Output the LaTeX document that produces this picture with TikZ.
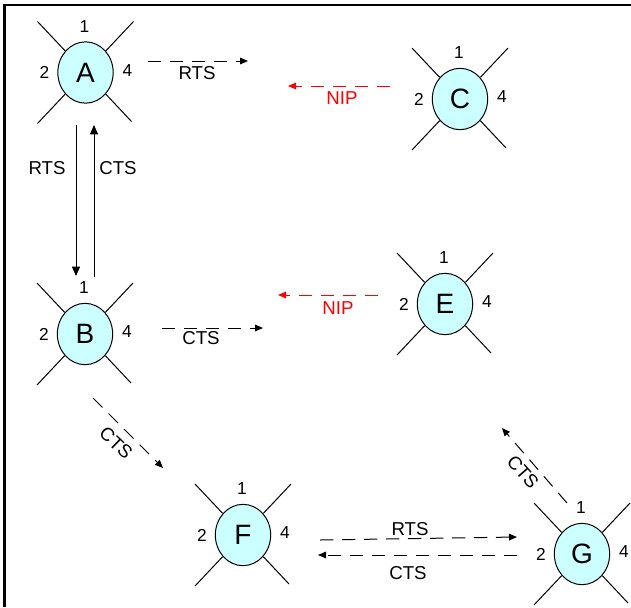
\documentclass[tikz,border=0pt]{standalone}
\usepackage{fontspec}
\setmainfont{Liberation Sans}
\usetikzlibrary{arrows.meta,shapes.geometric,calc}
\definecolor{stafill}{HTML}{CCFFFF}
\definecolor{nipred}{HTML}{FF0000}
\tikzset{
  station/.style={ellipse, draw, fill=stafill, minimum width=41.5pt, minimum height=46pt,
    inner sep=0pt, line width=0.75pt, font=\fontsize{21}{21}\selectfont},
  spoke/.style={line width=0.75pt},
  port/.style={inner sep=0pt, font=\fontsize{13}{13}\selectfont},
  msg/.style={inner sep=0pt, font=\fontsize{14}{14}\selectfont},
  dasharrow/.style={line width=0.75pt, dash pattern=on 10pt off 6.5pt,
    -{Triangle[length=6pt,width=5pt]}},
  solidarrow/.style={line width=0.75pt, -{Triangle[length=7pt,width=6pt]}},
  frame/.style={line width=1.9pt}
}
\newcommand\mystation[4]{%
  \node[station] (#1) at (#2,#3) {#4};
  \draw[spoke] ($(#1)+(-48,-51)$) -- (#1);
  \draw[spoke] ($(#1)+(48,-51)$) -- (#1);
  \draw[spoke] ($(#1)+(-48,51)$) -- (#1);
  \draw[spoke] ($(#1)+(46,49)$) -- (#1);
  \node[port] (#1-1) at ($(#1)+(-1,-46)$) {1};
  \node[port] (#1-2) at ($(#1)+(-41,0)$) {2};
  \node[port] (#1-4) at ($(#1)+(42,-2)$) {4};
}
\begin{document}
\begin{tikzpicture}[x=0.75pt,y=-0.75pt]
\useasboundingbox (0,0) rectangle (631,607);
\fill[white] (0,0) rectangle (631,607);
\coordinate (fbl) at (4.5,607);
\coordinate (ftl) at (4.5,5);
\coordinate (ftr) at (631,5);
\draw[frame] (fbl) -- (ftl) -- (ftr);

\mystation{A}{85.5}{72.5}{A}
\mystation{C}{460}{99}{C}
\mystation{B}{85}{334}{B}
\mystation{E}{445}{304}{E}
\mystation{F}{243}{535}{F}
\mystation{G}{582}{554}{G}

% A -> right RTS
\coordinate (ar1) at (148,61);
\coordinate (ar2) at (248,61);
\draw[dasharrow] (ar1) -- (ar2);
\node[msg] (lar) at (197,73) {RTS};

% C NIP
\coordinate (cn1) at (390,86);
\coordinate (cn2) at (288,86);
\draw[dasharrow, nipred] (cn1) -- (cn2);
\node[msg, text=nipred] (lcn) at (342,98) {NIP};

% A <-> B
\coordinate (ab1) at (76,125);
\coordinate (ab2) at (76,276);
\coordinate (ba1) at (94,277);
\coordinate (ba2) at (94,125);
\draw[solidarrow] (ab1) -- (ab2);
\draw[solidarrow] (ba1) -- (ba2);
\node[msg] (lab) at (47,168) {RTS};
\node[msg] (lba) at (118,168) {CTS};

% B -> right CTS
\coordinate (bc1) at (162,328);
\coordinate (bc2) at (263,328);
\draw[dasharrow] (bc1) -- (bc2);
\node[msg] (lbc) at (201,338) {CTS};

% E NIP
\coordinate (en1) at (378,295);
\coordinate (en2) at (278,295);
\draw[dasharrow, nipred] (en1) -- (en2);
\node[msg, text=nipred] (len) at (338,308) {NIP};

% B -> F CTS
\coordinate (bf1) at (93,398);
\coordinate (bf2) at (163,468);
\draw[dasharrow] (bf1) -- (bf2);
\node[msg, rotate=-44] (lbf) at (116,443) {CTS};

% F -> G RTS
\coordinate (fg1) at (320,540);
\coordinate (fg2) at (517,537);
\draw[dasharrow] (fg1) -- (fg2);
\node[msg] (lfg) at (410,529) {RTS};

% G -> F CTS
\coordinate (gf1) at (517,555);
\coordinate (gf2) at (318,555);
\draw[dasharrow] (gf1) -- (gf2);
\node[msg] (lgf) at (408,573) {CTS};

% G -> E CTS
\coordinate (ge1) at (567,503);
\coordinate (ge2) at (502,428);
\draw[dasharrow] (ge1) -- (ge2);
\node[msg, rotate=-49] (lge) at (523,472) {CTS};
\end{tikzpicture}
\end{document}
